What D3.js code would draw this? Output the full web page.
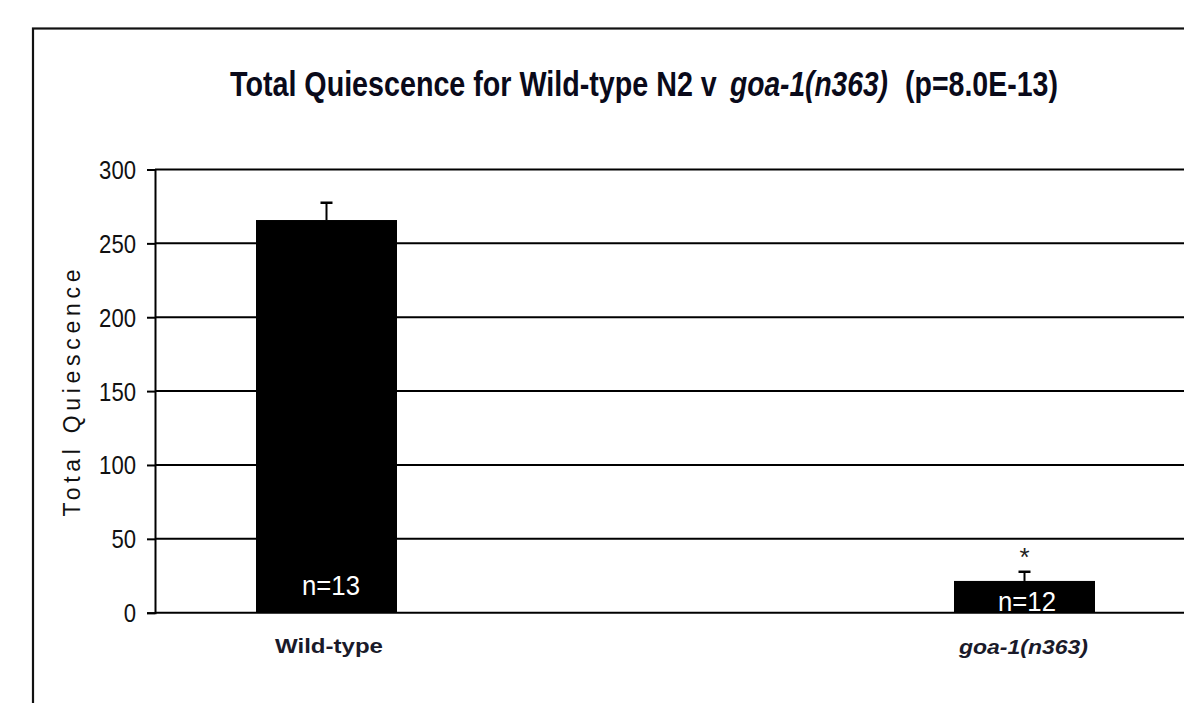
<!DOCTYPE html>
<html><head><meta charset="utf-8">
<script src="https://cdn.jsdelivr.net/npm/d3@7"></script>
<style>body{margin:0;background:#fff;}svg{display:block;}</style>
</head><body>
<script>
const categories = ["Wild-type", "goa-1(n363)"];
const values = [265.8, 21.5];
const errors = [11.7, 6.2];
const nLabels = ["n=13", "n=12"];
const yTicks = [0, 50, 100, 150, 200, 250, 300];
const titleParts = ["Total Quiescence for Wild-type N2 v", "goa-1(n363)", "(p=8.0E-13)"];

const W = 1184, H = 703;
const svg = d3.select("body").append("svg").attr("width", W).attr("height", H);
const sans = "'Liberation Sans',Arial,sans-serif";

// outer frame
svg.append("rect").attr("x", 33).attr("y", 28.5).attr("width", 1300).attr("height", 800)
  .attr("fill", "none").attr("stroke", "#111").attr("stroke-width", 2.2);

const x = d3.scaleBand().domain(categories).range([155, 1196]).paddingInner(0.798).paddingOuter(0.1447);
const y = d3.scaleLinear().domain([0, 300]).range([612.7, 169.5]);

// gridlines
svg.append("g").selectAll("line").data(yTicks).join("line")
  .attr("x1", 155).attr("x2", W).attr("y1", d => y(d)).attr("y2", d => y(d))
  .attr("stroke", "#000").attr("stroke-width", 2);

// y axis
const ya = svg.append("g").attr("transform", "translate(155,0)")
  .call(d3.axisLeft(y).tickValues(yTicks).tickSize(8).tickPadding(11));
ya.select(".domain").attr("stroke", "#000").attr("stroke-width", 2);
ya.selectAll(".tick line").attr("stroke", "#000").attr("stroke-width", 2);
ya.selectAll("text").attr("font-family", sans).attr("font-size", 25).attr("fill", "#111")
  .attr("dy", "0.36em")
  .attr("textLength", d => String(d).length * 12.3).attr("lengthAdjust", "spacingAndGlyphs");

// bars
svg.append("g").selectAll("rect").data(categories).join("rect")
  .attr("x", d => x(d)).attr("width", x.bandwidth())
  .attr("y", (d, i) => y(values[i])).attr("height", (d, i) => y(0) - y(values[i]))
  .attr("fill", "#000");

// error bars
const eg = svg.append("g").attr("stroke", "#000").attr("stroke-width", 2);
categories.forEach((c, i) => {
  const cx = x(c) + x.bandwidth() / 2;
  eg.append("line").attr("x1", cx).attr("x2", cx).attr("y1", y(values[i])).attr("y2", y(values[i] + errors[i]));
  eg.append("line").attr("x1", cx - 6).attr("x2", cx + 6).attr("y1", y(values[i] + errors[i])).attr("y2", y(values[i] + errors[i])).attr("stroke-width", 2.5);
});

// n labels
svg.append("g").selectAll("text").data(categories).join("text")
  .attr("x", (d, i) => x(d) + x.bandwidth() / 2 + (i === 0 ? 4.5 : 2.5))
  .attr("y", (d, i) => i === 0 ? 595 : 611)
  .attr("text-anchor", "middle").attr("fill", "#fff")
  .attr("font-family", sans).attr("font-size", 27)
  .attr("textLength", 58).attr("lengthAdjust", "spacingAndGlyphs")
  .text((d, i) => nLabels[i]);

// asterisk
svg.append("text").attr("x", x(categories[1]) + x.bandwidth() / 2).attr("y", 566)
  .attr("text-anchor", "middle").attr("font-family", sans).attr("font-size", 26).attr("fill", "#222").text("*");

// x labels
svg.append("text").attr("x", 329).attr("y", 653)
  .attr("text-anchor", "middle").attr("font-family", sans).attr("font-weight", "bold")
  .attr("font-size", 21).attr("fill", "#1a1a2a")
  .attr("textLength", 108).attr("lengthAdjust", "spacingAndGlyphs").text(categories[0]);
svg.append("text").attr("x", 1023.5).attr("y", 654)
  .attr("text-anchor", "middle").attr("font-family", sans).attr("font-style", "italic").attr("font-weight", "bold")
  .attr("font-size", 21).attr("fill", "#1a1a2a")
  .attr("textLength", 129).attr("lengthAdjust", "spacingAndGlyphs").text(categories[1]);

// y axis title
svg.append("text").attr("transform", "translate(80,393) rotate(-90)")
  .attr("text-anchor", "middle").attr("font-family", sans).attr("font-size", 23)
  .attr("textLength", 247).attr("lengthAdjust", "spacing").attr("fill", "#111").text("Total Quiescence");

// title, in three pieces, each condensed horizontally to its measured width
const tPos = [[230, 487, "normal"], [730, 158, "italic"], [905, 153, "normal"]];
titleParts.forEach((s, i) => {
  const el = svg.append("text").attr("x", 0).attr("y", 0).attr("font-family", sans)
    .attr("font-size", 35).attr("font-weight", "bold").attr("font-style", tPos[i][2]).attr("fill", "#0a0a1a")
    .text(s);
  const len = el.node().getComputedTextLength();
  el.attr("transform", `translate(${tPos[i][0]},96) scale(${tPos[i][1] / len},1)`);
});
</script>
</body></html>
